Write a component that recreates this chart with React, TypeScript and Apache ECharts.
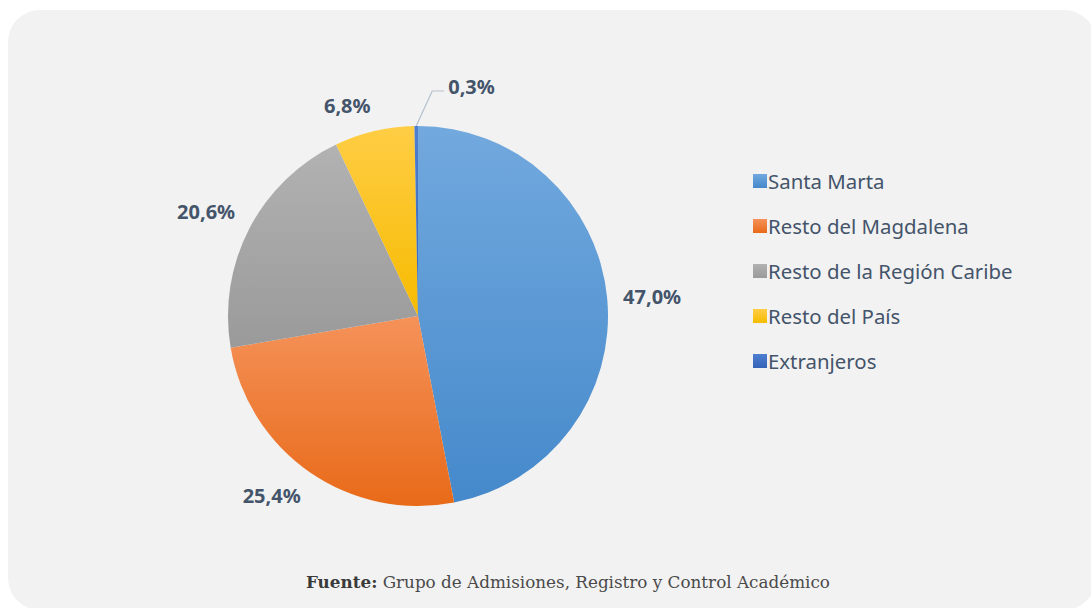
import React, { useEffect, useRef } from "react";
import * as echarts from "echarts";

const categories = ["Santa Marta", "Resto del Magdalena", "Resto de la Región Caribe", "Resto del País", "Extranjeros"];
const values = [47.0, 25.4, 20.6, 6.8, 0.3];
const topColors = ["#72a9de", "#f5925a", "#b2b2b2", "#ffcd45", "#4f7fd0"];
const bottomColors = ["#4589cb", "#e86a18", "#9a9a9a", "#f6bb00", "#3463b8"];
const sourceBold = "Fuente:";
const sourceText = " Grupo de Admisiones, Registro y Control Académico";

const CENTER = [418, 316];
const RADIUS = 190;
const LABEL_GAP = 16;

export default function App() {
  const ref = useRef<HTMLDivElement>(null);
  useEffect(() => {
    if (!ref.current) return;
    const chart = echarts.init(ref.current, null, { renderer: "svg" });
    const lastIdx = values.length - 1;
    const data = categories.map((name, i) => ({
      name,
      value: values[i],
      itemStyle: {
        color: new echarts.graphic.LinearGradient(0, 0, 0, 1, [
          { offset: 0, color: topColors[i] },
          { offset: 1, color: bottomColors[i] },
        ]),
      },
      labelLine: {
        show: true,
        lineStyle: { color: "#b4c0cc", width: 1.2, opacity: i === lastIdx ? 1 : 0 },
      },
    }));
    chart.setOption({
      animation: false,
      backgroundColor: "#ffffff",
      graphic: [
        {
          type: "rect",
          z: -10,
          shape: { x: 8, y: 10, width: 1088, height: 600, r: 32 },
          style: { fill: "#f2f2f2" },
        },
        {
          type: "text",
          left: 306,
          top: 573,
          style: {
            text: "{b|" + sourceBold + "}{n|" + sourceText + "}",
            rich: {
              b: { fontFamily: "DejaVu Serif", fontSize: 16.8, fontWeight: "bold", fill: "#3a3a3a" },
              n: { fontFamily: "DejaVu Serif", fontSize: 16.8, fill: "#4a4a4a" },
            },
          },
        },
      ],
      legend: {
        orient: "vertical",
        left: 748,
        top: 166,
        itemWidth: 14,
        itemHeight: 14,
        itemGap: 25,
        icon: "rect",
        textStyle: {
          fontFamily: "Noto Sans",
          fontSize: 20.4,
          lineHeight: 20,
          color: "#44546a",
          padding: [0, 0, 0, -4],
        },
        data: categories,
      },
      series: [
        {
          type: "pie",
          center: CENTER,
          radius: [0, RADIUS],
          startAngle: 90,
          clockwise: true,
          avoidLabelOverlap: false,
          data,
          itemStyle: { borderWidth: 0 },
          label: {
            show: true,
            position: "outside",
            formatter: (p: any) => p.value.toFixed(1).replace(".", ",") + "%",
            fontFamily: "Noto Sans",
            fontSize: 20,
            fontWeight: "bold",
            color: "#44546a",
          },
          labelLine: { show: true, length: 18, length2: 0 },
          labelLayout: (params: any) => {
            const pts = params.labelLinePoints;
            if (!pts) return {};
            const p0 = pts[0];
            if (params.dataIndex === lastIdx) {
              const p1 = [p0[0] + 16, p0[1] - 35];
              const p2 = [p0[0] + 28, p0[1] - 35];
              return {
                x: p2[0] + 4,
                y: p2[1] - 5,
                align: "left",
                verticalAlign: "middle",
                labelLinePoints: [p0, p1, p2],
              };
            }
            const dx = p0[0] - CENTER[0];
            const dy = p0[1] - CENTER[1];
            const len = Math.sqrt(dx * dx + dy * dy) || 1;
            const ux = dx / len;
            const uy = dy / len;
            const hw = params.labelRect.width / 2;
            const hh = params.labelRect.height / 2;
            const d = RADIUS + LABEL_GAP;
            const ox = Math.abs(ux) < 0.2 ? 0 : Math.sign(ux) * hw;
            const oy = Math.abs(uy) < 0.2 ? 0 : Math.sign(uy) * hh;
            return {
              x: CENTER[0] + ux * d + ox,
              y: CENTER[1] + uy * d + oy,
              align: "center",
              verticalAlign: "middle",
              labelLinePoints: [p0, p0, p0],
            };
          },
        },
      ],
    });
    return () => chart.dispose();
  }, []);
  return (
    <div
      ref={ref}
      style={{ position: "fixed", left: 0, top: 0, width: 1091, height: 608 }}
    />
  );
}
